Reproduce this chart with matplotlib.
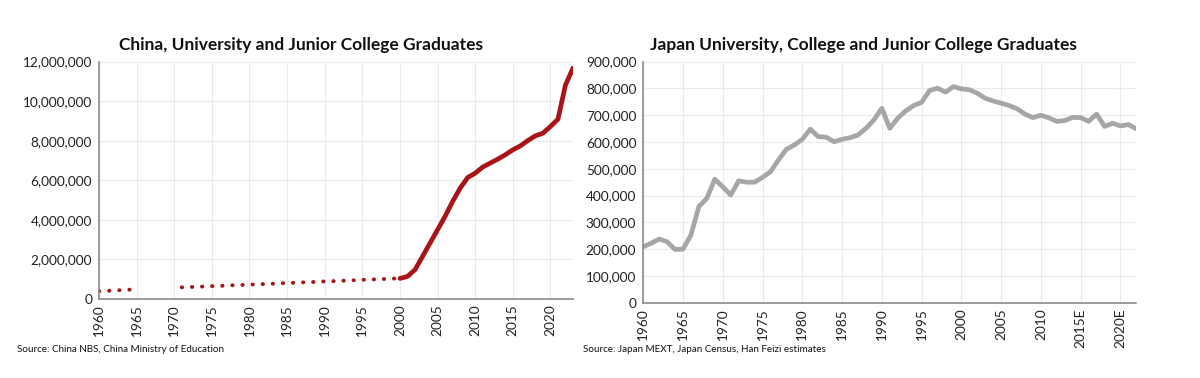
import matplotlib.pyplot as plt
import matplotlib.ticker as mticker
import numpy as np

plt.rcParams['font.family'] = ['Lato', 'DejaVu Sans']

# China graduates (millions)
cn_early_years = [1960, 1961, 1962, 1963, 1964, 1965]
cn_early = [0.39, 0.41, 0.43, 0.45, 0.47, 0.49]
cn_mid_years = list(range(1971, 2001))
cn_mid = [0.59, 0.60, 0.62, 0.63, 0.65, 0.66, 0.68, 0.70, 0.71, 0.73,
          0.74, 0.76, 0.77, 0.79, 0.81, 0.82, 0.84, 0.85, 0.87, 0.89,
          0.90, 0.92, 0.93, 0.95, 0.97, 0.98, 1.00, 1.01, 1.03, 1.04]
cn_years = list(range(2000, 2024))
cn_vals = [1.04, 1.14, 1.48, 2.15, 2.83, 3.50, 4.18, 4.93, 5.60, 6.14,
           6.36, 6.67, 6.87, 7.07, 7.29, 7.54, 7.74, 8.01, 8.25, 8.38,
           8.72, 9.09, 10.82, 11.67]

# Japan graduates (thousands)
jp_years = list(range(1960, 2023))
jp_vals = [209, 222, 238, 228, 199, 200, 253, 359, 390, 461,
           433, 402, 455, 450, 450, 468, 489, 533, 573, 589,
           610, 648, 620, 618, 601, 610, 616, 626, 651, 682,
           726, 651, 689, 716, 736, 748, 792, 801, 786, 807,
           798, 795, 782, 763, 753, 745, 736, 724, 704, 691,
           700, 690, 677, 680, 692, 691, 677, 704, 658, 670,
           660, 665, 649]
jp_ticks = [1960, 1965, 1970, 1975, 1980, 1985, 1990, 1995, 2000, 2005, 2010, 2015, 2020]
jp_ticklabels = ['1960', '1965', '1970', '1975', '1980', '1985', '1990', '1995',
                 '2000', '2005', '2010', '2015E', '2020E']

red = '#a81418'
grey = '#a6a6a6'

fig = plt.figure(figsize=(12, 3.78), dpi=100)
ax1 = fig.add_axes([0.0825, 0.209, 0.395, 0.628])
ax2 = fig.add_axes([0.536, 0.199, 0.411, 0.638])


def style(ax):
    for s in ['top', 'right']:
        ax.spines[s].set_visible(False)
    for s in ['left', 'bottom']:
        ax.spines[s].set_color('#8c8c8c')
        ax.spines[s].set_linewidth(1.2)
    ax.grid(True, color='#ebebeb', linewidth=0.8)
    ax.set_axisbelow(True)
    ax.tick_params(length=0, labelsize=9.8, colors='#222222', pad=5)
    ax.tick_params(axis='x', rotation=90, pad=4)


# left: China
dot = (0, (0.1, 2.5))
ax1.plot(np.array(cn_early_years), np.array(cn_early) * 1e6, color=red, lw=2.8,
         linestyle=dot, dash_capstyle='round')
ax1.plot(np.array(cn_mid_years), np.array(cn_mid) * 1e6, color=red, lw=2.8,
         linestyle=dot, dash_capstyle='round')
ax1.plot(np.array(cn_years), np.array(cn_vals) * 1e6, color=red, lw=3.4,
         solid_capstyle='round', solid_joinstyle='round')
ax1.set_xlim(1960, 2023)
ax1.set_ylim(0, 12e6)
ax1.set_xticks(range(1960, 2021, 5))
ax1.set_yticks(np.arange(0, 12e6 + 1, 2e6))
ax1.yaxis.set_major_formatter(mticker.FuncFormatter(lambda v, p: f'{v:,.0f}'))
style(ax1)

# right: Japan
ax2.plot(jp_years, np.array(jp_vals) * 1e3, color=grey, lw=3.4,
         solid_joinstyle='round', solid_capstyle='round')
ax2.set_xlim(1960, 2022)
ax2.set_ylim(0, 900000)
ax2.set_xticks(jp_ticks)
ax2.set_xticklabels(jp_ticklabels)
ax2.set_yticks(np.arange(0, 900001, 100000))
ax2.yaxis.set_major_formatter(mticker.FuncFormatter(lambda v, p: f'{v:,.0f}'))
style(ax2)

fig.text(301 / 1200, 1 - 45 / 378, 'China, University and Junior College Graduates',
         ha='center', va='center', fontsize=12.5, fontweight='bold', color='#111111')
fig.text(863 / 1200, 1 - 45 / 378, 'Japan University, College and Junior College Graduates',
         ha='center', va='center', fontsize=12.5, fontweight='bold', color='#111111')
fig.text(17 / 1200, 1 - 349 / 378, 'Source: China NBS, China Ministry of Education',
         ha='left', va='center', fontsize=7.1, color='#111111')
fig.text(583 / 1200, 1 - 349 / 378, 'Source: Japan MEXT, Japan Census, Han Feizi estimates',
         ha='left', va='center', fontsize=7.1, color='#111111')

fig.savefig('out.png', dpi=100, facecolor='white')
